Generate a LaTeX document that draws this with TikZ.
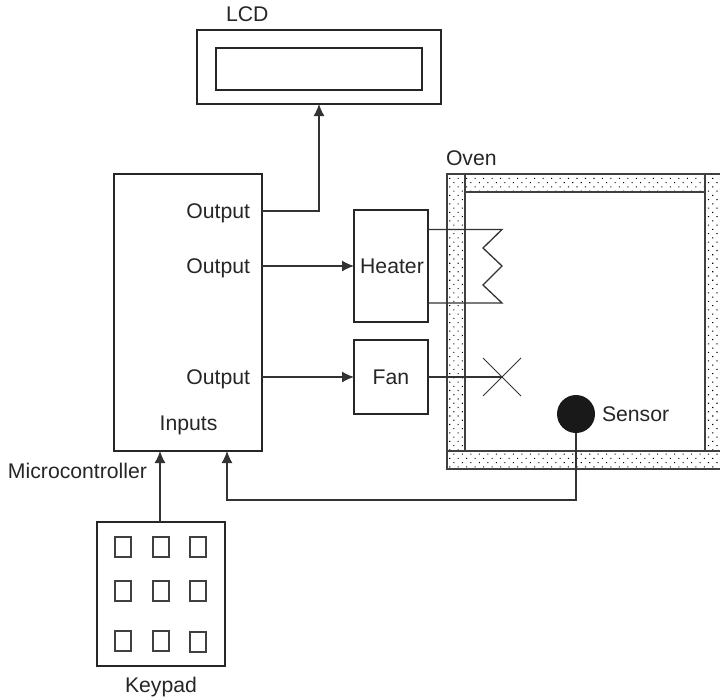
\documentclass[tikz,border=0pt]{standalone}
\usepackage{fontspec}
\setmainfont{Liberation Sans}
\usetikzlibrary{arrows.meta,patterns.meta}
\tikzset{
  box/.style={draw=black!85,line width=1.5pt,fill=white,inner sep=0pt,outer sep=0pt},
  keybox/.style={draw=black!75,line width=1.1pt,inner sep=0pt,outer sep=0pt,minimum width=16pt,minimum height=20pt},
  label/.style={inner sep=0pt,outer sep=0pt,text=black!85,font=\fontsize{21.2}{25}\selectfont},
  wire/.style={draw=black!80,line width=1.3pt},
  arrowwire/.style={wire,-{Latex[length=12pt,width=11pt]}},
  wall/.style={draw=black!75,line width=1.2pt},
  stipple/.style={pattern={Dots[radius=0.75pt,distance=6pt,angle=45]},pattern color=black},
}
\begin{document}
\begin{tikzpicture}[x=1pt,y=-1pt]
\useasboundingbox (0,0) rectangle (720,696);
% oven
\fill[stipple] (447,174) -- (720,174) -- (720,469) -- (447,469) -- cycle
  (465,192) -- (465,451) -- (705,451) -- (705,192) -- cycle;
\draw[wall] (720,174) -- (447,174) -- (447,469) -- (720,469);
\draw[wall] (465,174) -- (465,451);
\draw[wall] (705,174) -- (705,451);
\draw[wall] (465,192) -- (705,192);
\draw[wall] (447,451) -- (720,451);
\node[label,anchor=base west] (ovenlabel) at (446,165.5) {Oven};
% boxes
\node[box,minimum width=244pt,minimum height=74pt] (lcd) at (319,67) {};
\node[box,line width=1.1pt,minimum width=206pt,minimum height=42pt] (lcdin) at (319,69) {};
\node[label,anchor=base west] (lcdlabel) at (226,21) {LCD};
\node[box,minimum width=148pt,minimum height=277pt] (mcu) at (188,312.5) {};
\node[label,anchor=base east] (o1) at (250,218) {Output};
\node[label,anchor=base east] (o2) at (250,273) {Output};
\node[label,anchor=base east] (o3) at (250,384) {Output};
\node[label,anchor=base] (inp) at (188.5,430) {Inputs};
\node[label,anchor=base west] (mculabel) at (8,478) {Microcontroller};
\coordinate (zig) at (502,229.5);
\coordinate (zigb) at (502,303);
\coordinate (fanx) at (502,377);
\draw[wire] (428,229.5) -- (zig) -- (483,248) -- (502,266) -- (483,285) -- (zigb) -- (428,303);
\draw[wire,line width=1pt] (483,358) -- (521,396) (483,396) -- (521,358);
\node[box,minimum width=74pt,minimum height=112pt] (heater) at (391,266) {};
\node[label,anchor=base] (heaterlabel) at (392,273) {Heater};
\node[box,minimum width=74pt,minimum height=74pt] (fan) at (391,377) {};
\node[label,anchor=base] (fanlabel) at (391,384) {Fan};
\draw[wire] (fan.east) -- (fanx);
% sensor
\node[circle,fill=black!90,draw=none,minimum size=38pt,inner sep=0pt,outer sep=0pt] (sensor) at (576,414) {};
\node[label,anchor=base west] (sensorlabel) at (602,421) {Sensor};
% keypad
\node[box,minimum width=128pt,minimum height=144pt] (keypad) at (161,594) {};
\foreach \n/\x/\y in {a/123/547,b/161/547,c/198/547,d/123/591,e/161/591,f/198/591,g/123/641,h/161/641,i/198/642}
  \node[keybox] (key\n) at (\x,\y) {};
\node[label,anchor=base] (keypadlabel) at (161,692) {Keypad};
% connectors
\coordinate (lcdbend) at (319,211);
\coordinate (sbend) at (576,500);
\coordinate (mcuin) at (227,500);
\draw[arrowwire] (mcu.east |- lcdbend) -- (lcdbend) -- (lcd.south);
\draw[arrowwire] (mcu.east |- heater.center) -- (heater.west);
\draw[arrowwire] (mcu.east |- fan.center) -- (fan.west);
\draw[arrowwire] (sensor.south) -- (sbend) -- (mcuin) -- (mcuin |- mcu.south);
\draw[arrowwire] (keypad.north -| 160,0) -- (160,451);
\end{tikzpicture}
\end{document}
